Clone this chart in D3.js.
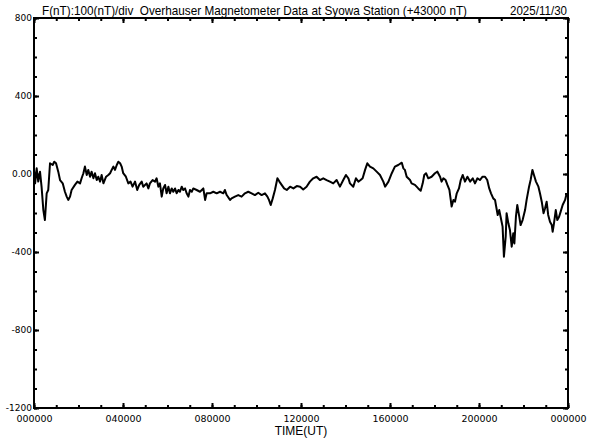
<!DOCTYPE html>
<html>
<head>
<meta charset="utf-8">
<script src="https://cdn.jsdelivr.net/npm/d3@7"></script>
<style>
  body { margin: 0; background: #fff; }
  svg { display: block; }
  .tick text { font-family: 'DejaVu Sans', sans-serif; fill: #000; }
</style>
</head>
<body>
<svg id="chart" width="592" height="440"></svg>
<script>
// hours UT (decimal) and F deviation from 43000 nT
const hours = [
  0.00, 0.05, 0.12, 0.19, 0.27, 0.34, 0.42, 0.49, 0.57, 0.64, 0.72, 0.84, 0.91, 0.99,
  1.09, 1.17, 1.29, 1.39, 1.47, 1.54, 1.62, 1.69, 1.84, 1.95, 2.07, 2.14, 2.22, 2.29,
  2.37, 2.44, 2.52, 2.59, 2.67, 2.74, 2.82, 2.89, 2.97, 3.04, 3.12, 3.24, 3.34, 3.42,
  3.49, 3.57, 3.64, 3.72, 3.79, 3.87, 3.94, 4.01, 4.13, 4.24, 4.34, 4.43, 4.54, 4.64,
  4.73, 4.84, 4.91, 5.06, 5.14, 5.21, 5.33, 5.44, 5.51, 5.59, 5.66, 5.74, 5.81, 5.89,
  5.96, 6.04, 6.11, 6.19, 6.26, 6.34, 6.41, 6.49, 6.56, 6.64, 6.71, 6.79, 6.86, 6.94,
  7.01, 7.09, 7.16, 7.31, 7.46, 7.61, 7.69, 7.76, 7.91, 8.06, 8.21, 8.36, 8.51, 8.58,
  8.66, 8.81, 8.88, 9.03, 9.18, 9.33, 9.48, 9.63, 9.78, 9.93, 10.08, 10.23, 10.38, 10.49,
  10.56, 10.64, 10.73, 10.83, 10.94, 11.03, 11.13, 11.24, 11.36, 11.51, 11.66, 11.81, 11.96, 12.10,
  12.25, 12.40, 12.55, 12.70, 12.85, 13.00, 13.15, 13.30, 13.45, 13.60, 13.75, 13.90, 14.02, 14.13,
  14.20, 14.35, 14.47, 14.58, 14.68, 14.77, 14.88, 14.98, 15.10, 15.25, 15.40, 15.55, 15.70, 15.78,
  15.93, 16.08, 16.22, 16.37, 16.53, 16.60, 16.67, 16.75, 16.90, 16.97, 17.12, 17.27, 17.38, 17.47,
  17.54, 17.62, 17.72, 17.87, 18.02, 18.13, 18.25, 18.32, 18.40, 18.50, 18.58, 18.67, 18.73, 18.77,
  18.85, 18.92, 19.00, 19.10, 19.18, 19.27, 19.37, 19.48, 19.60, 19.72, 19.82, 19.93, 20.04, 20.16,
  20.27, 20.37, 20.46, 20.54, 20.64, 20.72, 20.76, 20.84, 20.91, 20.97, 21.06, 21.12, 21.20, 21.24,
  21.32, 21.39, 21.47, 21.54, 21.59, 21.66, 21.72, 21.81, 21.87, 21.96, 22.07, 22.14, 22.25, 22.32,
  22.40, 22.47, 22.56, 22.67, 22.74, 22.82, 22.90, 22.97, 23.04, 23.11, 23.19, 23.27, 23.31, 23.37,
  23.45, 23.52, 23.60, 23.67, 23.76, 23.87, 23.94
];
const fValues = [
  21, -48, 29, -39, 12, -65, -185, -236, -99, -82, 55, 46, 63, 55,
  12, -31, -48, -91, -116, -133, -116, -82, -56, -39, -48, -22, 4, 38,
  -5, 21, -14, 12, -22, 4, -31, -14, -39, -5, -48, -14, -5, 4,
  21, 38, 21, 46, 63, 55, 38, 4, -14, -48, -39, -65, -39, -82,
  -56, -39, -65, -48, -74, -48, -31, -39, -22, -65, -48, -116, -74, -56,
  -99, -65, -99, -74, -91, -74, -99, -82, -91, -65, -82, -74, -99, -116,
  -82, -91, -74, -82, -91, -74, -133, -99, -99, -91, -99, -91, -99, -82,
  -108, -133, -125, -116, -108, -116, -99, -91, -99, -108, -96, -108, -99, -116,
  -133, -159, -125, -82, -22, -39, -56, -74, -82, -65, -74, -62, -65, -79,
  -65, -39, -22, -14, -31, -22, -31, -39, -48, -31, -65, -31, -5, -22,
  -48, -65, -22, -39, -31, -22, 21, 55, 38, 29, 12, -5, -39, -65,
  -39, 4, 38, 46, 58, 29, 21, -14, -31, -48, -56, -74, -86, -48,
  -5, 4, -22, -14, 4, 12, -14, -39, -22, -31, -56, -82, -133, -167,
  -133, -142, -99, -74, -31, -5, -39, -14, -39, -22, -48, -22, -31, -14,
  -14, -31, -74, -99, -125, -133, -159, -210, -185, -219, -270, -424, -321, -201,
  -253, -287, -373, -304, -356, -219, -159, -219, -262, -236, -185, -133, -65, -31,
  21, -5, -39, -65, -99, -142, -201, -176, -142, -210, -245, -262, -296, -253,
  -185, -236, -219, -193, -159, -133, -99
];

const yMajor = [800, 400, 0, -400, -800, -1200];
const yTickLabels = ['800', '400', '0.00', '-400', '-800', '-1200'];
const xMajor = [0, 4, 8, 12, 16, 20, 24];
const xTickLabels = ['000000', '040000', '080000', '120000', '160000', '200000', '000000'];

const titleText = 'F(nT):100(nT)/div  Overhauser Magnetometer Data at Syowa Station (+43000 nT)';
const dateText = '2025/11/30';

const svg = d3.select('#chart');
const margin = { left: 34, top: 18, right: 24, bottom: 32 };
const width = 592 - margin.left - margin.right;
const height = 440 - margin.top - margin.bottom;

const x = d3.scaleLinear().domain([0, 24]).range([margin.left, margin.left + width]);
const y = d3.scaleLinear().domain([-1200, 800]).range([margin.top + height, margin.top]);

const minorX = d3.range(0, 25, 1);
const minorY = d3.range(-1200, 801, 100);

function styleAxis(g) {
  g.select('.domain').remove();
  g.selectAll('.tick line').attr('stroke', '#000').attr('stroke-width', 2);
}

// minor ticks, all four sides
svg.append('g').attr('transform', `translate(0,${margin.top + height})`)
  .call(d3.axisBottom(x).tickValues(minorX).tickSize(-3).tickFormat(''))
  .call(styleAxis);
svg.append('g').attr('transform', `translate(0,${margin.top})`)
  .call(d3.axisTop(x).tickValues(minorX).tickSize(-3).tickFormat(''))
  .call(styleAxis);
svg.append('g').attr('transform', `translate(${margin.left},0)`)
  .call(d3.axisLeft(y).tickValues(minorY).tickSize(-3).tickFormat(''))
  .call(styleAxis);
svg.append('g').attr('transform', `translate(${margin.left + width},0)`)
  .call(d3.axisRight(y).tickValues(minorY).tickSize(-3).tickFormat(''))
  .call(styleAxis);

// major ticks with labels
svg.append('g').attr('transform', `translate(0,${margin.top + height})`)
  .call(d3.axisBottom(x).tickValues(xMajor).tickSize(-5).tickPadding(7)
    .tickFormat((d, i) => xTickLabels[i]))
  .call(styleAxis)
  .selectAll('text').attr('font-size', 9.5);
svg.append('g').attr('transform', `translate(0,${margin.top})`)
  .call(d3.axisTop(x).tickValues(xMajor).tickSize(-5).tickFormat(''))
  .call(styleAxis);
svg.append('g').attr('transform', `translate(${margin.left},0)`)
  .call(d3.axisLeft(y).tickValues(yMajor).tickSize(-5).tickPadding(2)
    .tickFormat((d, i) => yTickLabels[i]))
  .call(styleAxis)
  .selectAll('text').attr('font-size', 9).attr('dy', '0.25em');
svg.append('g').attr('transform', `translate(${margin.left + width},0)`)
  .call(d3.axisRight(y).tickValues(yMajor).tickSize(-5).tickFormat(''))
  .call(styleAxis);

// frame
svg.append('rect')
  .attr('x', margin.left).attr('y', margin.top)
  .attr('width', width).attr('height', height)
  .attr('fill', 'none').attr('stroke', '#000').attr('stroke-width', 2);

// trace
const line = d3.line()
  .x((d, i) => x(hours[i]))
  .y(d => y(d));

svg.append('path')
  .datum(fValues)
  .attr('fill', 'none')
  .attr('stroke', '#000')
  .attr('stroke-width', 2)
  .attr('stroke-linejoin', 'round')
  .attr('d', line);

// texts
svg.append('text')
  .attr('x', 42).attr('y', 15)
  .attr('font-family', 'Liberation Sans, Arial, sans-serif')
  .attr('font-size', 13)
  .style('white-space', 'pre')
  .attr('textLength', 425).attr('lengthAdjust', 'spacingAndGlyphs')
  .text(titleText);

svg.append('text')
  .attr('x', 567).attr('y', 15)
  .attr('text-anchor', 'end')
  .attr('font-family', 'Liberation Sans, Arial, sans-serif')
  .attr('font-size', 13)
  .attr('textLength', 57).attr('lengthAdjust', 'spacingAndGlyphs')
  .text(dateText);

svg.append('text')
  .attr('x', margin.left + width / 2).attr('y', 435)
  .attr('text-anchor', 'middle')
  .attr('font-family', 'Liberation Sans, Arial, sans-serif')
  .attr('font-size', 12)
  .text('TIME(UT)');
</script>
</body>
</html>
